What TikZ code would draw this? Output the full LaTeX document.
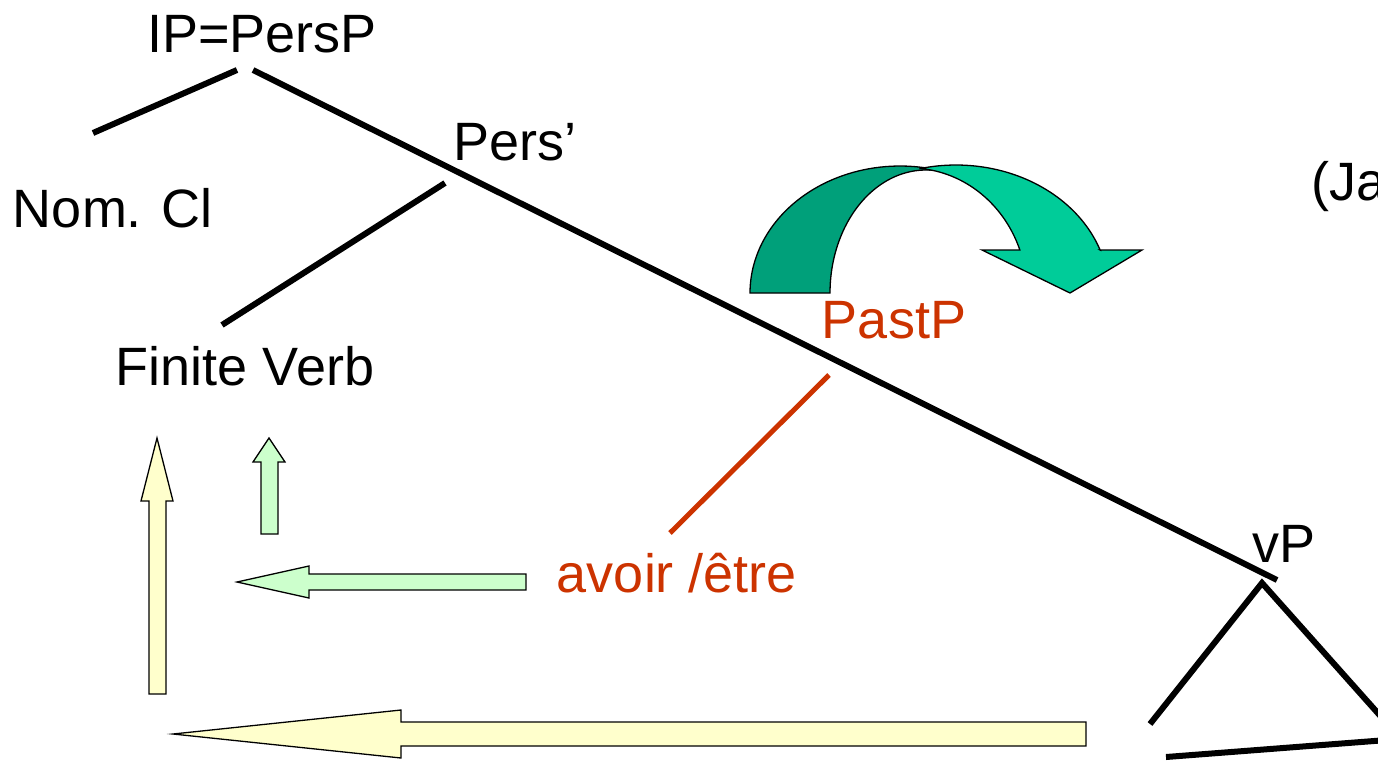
\documentclass[tikz,border=0pt]{standalone}
\usepackage{fontspec}
\setmainfont{Liberation Sans}
\definecolor{treered}{HTML}{CC3300}
\definecolor{arcdark}{HTML}{00A07A}
\definecolor{arclight}{HTML}{00CC99}
\definecolor{paleyellow}{HTML}{FFFFCC}
\definecolor{palegreen}{HTML}{CCFFCC}
\begin{document}
\begin{tikzpicture}[x=1pt,y=-1pt,
  treelabel/.style={inner sep=0pt, anchor=base, font=\fontsize{54}{60}\selectfont},
  branch/.style={line width=6pt},
  redbranch/.style={line width=5pt, draw=treered},
  blockarrow/.style={draw=black, line width=1.3pt, line join=miter},
  arcpart/.style={draw=black, line width=1.3pt, line join=miter}]
\useasboundingbox (0,0) rectangle (1378,761);
\clip (0,0) rectangle (1378,761);

% labels of the tree
\node[treelabel] (ip) at (262,52) {IP=PersP};
\node[treelabel] (nom) at (113,227) {Nom. Cl};
\node[treelabel] (pers) at (515,160) {Pers’};
\node[treelabel] (fin) at (245,385) {Finite Verb};
\node[treelabel, text=treered] (past) at (894,338) {PastP};
\node[treelabel, text=treered] (avoir) at (677,592) {avoir /être};
\node[treelabel] (vp) at (1284,562) {vP};
\node[treelabel, anchor=base west] (ja) at (1311,200) {(Ja};

% branch end points
\coordinate (ipL) at (237,70);
\coordinate (nomT) at (93,133);
\coordinate (ipR) at (253,70);
\coordinate (persL) at (445,183);
\coordinate (finT) at (222,325);
\coordinate (pastB) at (829,375);
\coordinate (avoirT) at (670,533);
\coordinate (vpT) at (1277,580);
\coordinate (apex) at (1262,583);
\coordinate (triL) at (1150,724);
\coordinate (triR) at (1400,738);
\coordinate (baseL) at (1166,757);
\coordinate (baseR) at (1400,739);

% branches
\draw[branch] (ipL) -- (nomT);
\draw[branch] (ipR) -- (vpT);
\draw[branch] (persL) -- (finT);
\draw[redbranch] (pastB) -- (avoirT);
\draw[branch, line join=miter] (triL) -- (apex) -- (triR);
\draw[branch] (baseL) -- (baseR);

% curved arrow over PastP: rear band, then front band with head
\path[arcpart, fill=arcdark]
  plot[domain=180:76.5, samples=50, variable=\t] ({900+150*cos(\t)},{293-127*sin(\t)})
  -- plot[domain=87.6:180, samples=50, variable=\t] ({926+96*cos(\t)},{293-123*sin(\t)})
  -- cycle;
\path[arcpart, fill=arclight]
  plot[domain=85.1:20.1, samples=50, variable=\t] ({910+117*cos(\t)},{293-125*sin(\t)})
  -- (982,250) -- (1070,293) -- (1142,250) -- (1100,250)
  -- plot[domain=19.6:103.6, samples=50, variable=\t] ({956+153*cos(\t)},{293-128*sin(\t)})
  -- cycle;

% block arrows
\path[blockarrow, fill=paleyellow]
  (149,694) -- (149,501) -- (141,501) -- (157,438) -- (173,501) -- (166,501) -- (166,694) -- cycle;
\path[blockarrow, fill=palegreen]
  (261,534) -- (261,462) -- (253,462) -- (269,438) -- (285,462) -- (278,462) -- (278,534) -- cycle;
\path[blockarrow, fill=palegreen]
  (526,574) -- (309,574) -- (309,566) -- (237,582) -- (309,598) -- (309,590) -- (526,590) -- cycle;
\path[blockarrow, fill=paleyellow]
  (1086,722) -- (401,722) -- (401,710) -- (173,734) -- (401,758) -- (401,746) -- (1086,746) -- cycle;
\end{tikzpicture}
\end{document}
